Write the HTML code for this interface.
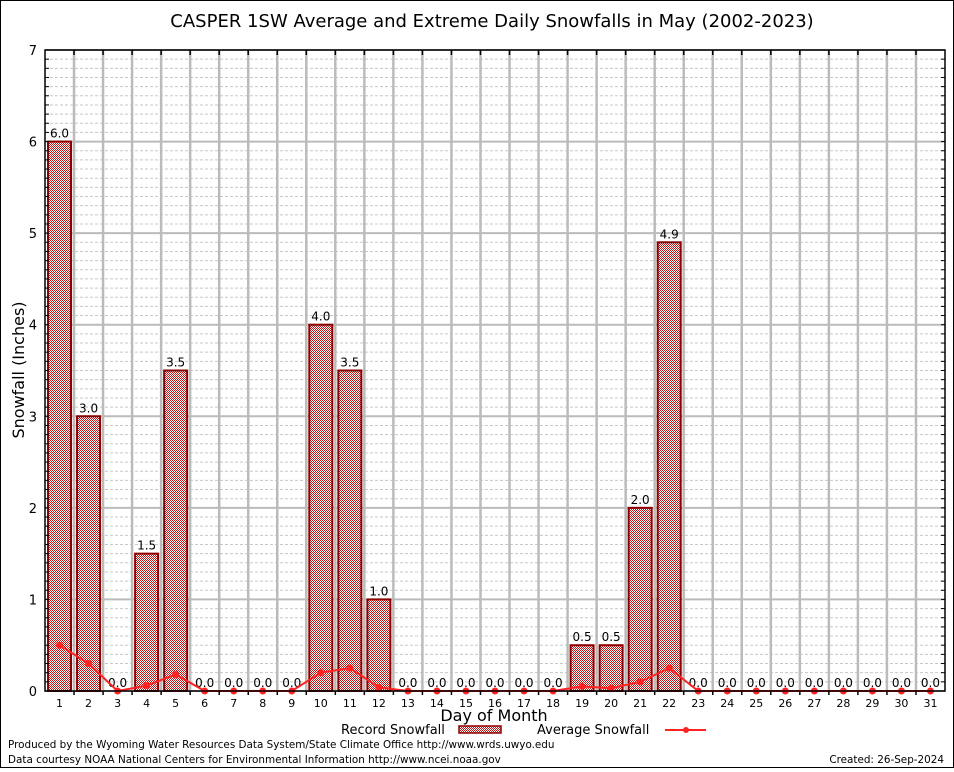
<!DOCTYPE html>
<html><head><meta charset="utf-8"><style>
body{margin:0;background:#fff;font-family:"DejaVu Sans","Liberation Sans",sans-serif}
svg text{font-family:"DejaVu Sans","Liberation Sans",sans-serif}
</style></head><body>
<svg id="chart" width="954" height="768" xmlns="http://www.w3.org/2000/svg">
<defs><pattern id="chk" width="2" height="2" patternUnits="userSpaceOnUse"><rect width="2" height="2" fill="#fff"/><rect width="1" height="1" fill="#c01818"/><rect x="1" y="1" width="1" height="1" fill="#c01818"/></pattern></defs>
<rect x="0.5" y="0.5" width="953" height="767" fill="#fff" stroke="#000"/>
<text x="492" y="27" font-size="18" text-anchor="middle">CASPER 1SW Average and Extreme Daily Snowfalls in May (2002-2023)</text>
<g id="grid"></g><g id="bars"></g><g id="line"></g><g id="axes"></g>
<text transform="translate(24,370) rotate(-90)" font-size="16" text-anchor="middle">Snowfall (Inches)</text>
<text x="494" y="721" font-size="16" text-anchor="middle">Day of Month</text>
<g>
<text x="341" y="734" font-size="13">Record Snowfall</text>
<rect x="459" y="726" width="42" height="7" fill="url(#chk)" stroke="#8b0000" stroke-width="1.5"/>
<text x="537" y="734" font-size="13">Average Snowfall</text>
<line x1="665" y1="730" x2="706" y2="730" stroke="#f22" stroke-width="2"/>
<circle cx="686" cy="730" r="3" fill="#f22"/>
</g>
<text x="8" y="748" font-size="10.4">Produced by the Wyoming Water Resources Data System/State Climate Office http://www.wrds.uwyo.edu</text>
<text x="8" y="763" font-size="10.4">Data courtesy NOAA National Centers for Environmental Information http://www.ncei.noaa.gov</text>
<text x="944" y="763" font-size="10.4" text-anchor="end">Created:  26-Sep-2024</text>
</svg>
<script>
const days=[1,2,3,4,5,6,7,8,9,10,11,12,13,14,15,16,17,18,19,20,21,22,23,24,25,26,27,28,29,30,31];
const recordSnow=[6.0,3.0,0,1.5,3.5,0,0,0,0,4.0,3.5,1.0,0,0,0,0,0,0,0.5,0.5,2.0,4.9,0,0,0,0,0,0,0,0,0];
const avgSnow=[0.5,0.3,0,0.06,0.18,0,0,0,0,0.2,0.25,0.04,0,0,0,0,0,0,0.05,0.03,0.1,0.25,0,0,0,0,0,0,0,0,0];
const yTicks=[0,1,2,3,4,5,6,7];
const NS="http://www.w3.org/2000/svg";
const L=45,R=945,T=50,B=691,slot=(R-L)/days.length;
const x=d=>L+slot*(d-0.5), y=v=>B-(v/7)*(B-T);
function mk(tag,attrs,parent,txt){const e=document.createElementNS(NS,tag);for(const k in attrs)e.setAttribute(k,attrs[k]);if(txt!==undefined)e.textContent=txt;document.getElementById(parent).appendChild(e);return e;}
for(let v=0;v<=7.001;v+=0.1){const r=Math.round(v*10)/10;if(Math.abs(r-Math.round(r))<1e-6)continue;
 const g=mk('line',{x1:L,x2:R,y1:y(r),y2:y(r),stroke:'#c8c8c8','stroke-dasharray':'3,2','stroke-width':1},'grid');
 
 }
yTicks.forEach(t=>{const g=mk('line',{x1:L,x2:R,y1:y(t),y2:y(t),stroke:'#bbb','stroke-width':2},'grid');
 
 
 const tl=mk('text',{x:L-8,y:y(t)+5,'font-size':13,'text-anchor':'end',fill:'#000'},'axes',String(t));
 
 });
for(let i=1;i<days.length;i++){const g=mk('line',{x1:L+slot*i,x2:L+slot*i,y1:T,y2:B,stroke:'#bbb','stroke-width':2.5},'grid');
 
 
 mk('line',{x1:L+slot*i,x2:L+slot*i,y1:T,y2:T+5,stroke:'#000','stroke-width':1.5},'axes');
 mk('line',{x1:L+slot*i,x2:L+slot*i,y1:B,y2:B+4,stroke:'#000','stroke-width':1.5},'axes');}
for(let v=0.1;v<7;v+=0.1){mk('line',{x1:L,x2:L+4,y1:y(v),y2:y(v),stroke:'#000'},'axes');mk('line',{x1:R-4,x2:R,y1:y(v),y2:y(v),stroke:'#000'},'axes');}
days.forEach((d,i)=>{const v=recordSnow[i];
 if(v>0){const b=mk('rect',{x:x(d)-11.5,y:y(v),width:23,height:B-y(v),fill:'url(#chk)',stroke:'#8b0000','stroke-width':2},'bars');
  
  }
 const t=mk('text',{x:x(d),y:y(v)-4,'font-size':12,'text-anchor':'middle'},'bars',v.toFixed(1));
 
 
 const xl=mk('text',{x:x(d),y:B+16,'font-size':11,'text-anchor':'middle','font-family':'Liberation Serif, serif'},'axes',String(d));
 
 });
const pl=mk('polyline',{points:days.map((d,i)=>x(d)+','+y(avgSnow[i])).join(' '),fill:'none',stroke:'#f22','stroke-width':2},'line');


days.forEach((d,i)=>{const c=mk('circle',{cx:x(d),cy:y(avgSnow[i]),r:3.5,fill:'#f22'},'line');
 
 });
const ax=mk('rect',{x:L,y:T,width:R-L,height:B-T,fill:'none',stroke:'#000','stroke-width':1.5},'axes');


</script>
</body></html>
